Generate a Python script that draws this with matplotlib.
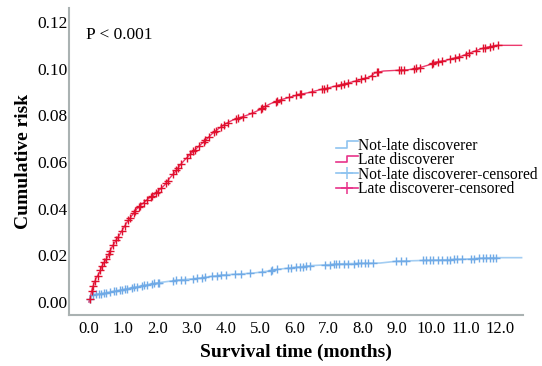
import matplotlib
matplotlib.use("Agg")
import matplotlib.pyplot as plt
import numpy as np
from matplotlib.lines import Line2D
from matplotlib.legend_handler import HandlerBase

# ---------------- data ----------------
late_t = [0.0, 0.05, 0.1, 0.2, 0.3, 0.4, 0.55, 0.65, 0.75, 0.9, 1.0, 1.1, 1.25, 1.4, 1.55,
          1.75, 1.9, 2.05, 2.2, 2.35, 2.5, 2.65, 2.8, 3.0, 3.15, 3.3, 3.45, 3.6, 3.8, 4.0,
          4.2, 4.4, 4.7, 5.0, 5.1, 5.3, 5.55, 5.8, 6.1, 6.4, 6.75, 7.0, 7.3, 7.6, 7.9, 8.2,
          8.35, 8.6, 9.0, 9.3, 9.6, 9.9, 10.1, 10.4, 10.65, 10.9, 11.2, 11.45, 11.65, 11.9, 12.63]
late_v = [0.000, 0.003, 0.006, 0.010, 0.0125, 0.016, 0.0195, 0.023, 0.0255, 0.029, 0.0315,
          0.034, 0.037, 0.040, 0.042, 0.0445, 0.046, 0.048, 0.050, 0.053, 0.0555, 0.0585,
          0.061, 0.064, 0.066, 0.068, 0.070, 0.0722, 0.0745, 0.0765, 0.078, 0.079, 0.0805,
          0.0825, 0.0835, 0.085, 0.0865, 0.0875, 0.0888, 0.0897, 0.091, 0.0918, 0.093,
          0.094, 0.0952, 0.0965, 0.0982, 0.099, 0.0993, 0.0995, 0.1002, 0.1015, 0.1028,
          0.1035, 0.1045, 0.1055, 0.1072, 0.1085, 0.1093, 0.110, 0.110]

notlate_t = [0.0, 0.05, 0.1, 0.4, 0.7, 1.0, 1.2, 1.5, 1.8, 2.1, 2.6, 3.1, 3.5, 3.9, 4.4, 4.8,
             5.2, 5.5, 6.0, 6.5, 7.0, 7.4, 8.5, 9.0, 9.5, 10.4, 11.0, 11.5, 11.9, 12.63]
notlate_v = [0.000, 0.0018, 0.0030, 0.0037, 0.0045, 0.0053, 0.0060, 0.0068, 0.0077, 0.0084,
             0.0094, 0.0100, 0.0108, 0.0116, 0.0120, 0.0124, 0.0132, 0.0140, 0.0148, 0.0156,
             0.0160, 0.0164, 0.0167, 0.0175, 0.0177, 0.0181, 0.0184, 0.0188, 0.0190, 0.0190]

late_cens = [0.02, 0.08, 0.12, 0.18, 0.25, 0.33, 0.38, 0.45, 0.5, 0.58, 0.62, 0.7, 0.8, 0.85,
             0.95, 1.05, 1.15, 1.2, 1.3, 1.35, 1.45, 1.5, 1.6, 1.7, 1.8, 1.85, 1.95, 2.0,
             2.1, 2.25, 2.3, 2.45, 2.55, 2.6, 2.7, 2.85, 2.95, 3.05, 3.1, 3.2, 3.35, 3.4,
             3.5, 3.65, 3.7, 3.85, 3.95, 4.05, 4.3, 4.35, 4.5, 4.75, 5.02, 5.06, 5.15, 5.45,
             5.5, 5.6, 5.85, 6.05, 6.15, 6.2, 6.5, 6.8, 6.85, 6.95, 7.2, 7.35, 7.45, 7.55,
             7.8, 7.95, 8.05, 8.25, 8.4, 8.45, 9.05, 9.1, 9.2, 9.5, 9.55, 9.65, 10.0, 10.05,
             10.2, 10.3, 10.55, 10.7, 10.8, 11.0, 11.1, 11.3, 11.5, 11.55, 11.7, 11.8, 11.95]

notlate_cens = [0.03, 0.12, 0.2, 0.28, 0.35, 0.45, 0.5, 0.6, 0.72, 0.8, 0.9, 0.95, 1.05, 1.1,
                1.25, 1.3, 1.4, 1.55, 1.6, 1.7, 1.85, 1.9, 2.0, 2.05, 2.45, 2.55, 2.7, 2.8,
                3.05, 3.15, 3.3, 3.4, 3.6, 3.75, 3.85, 4.0, 4.25, 4.45, 4.7, 5.05, 5.3, 5.35,
                5.5, 5.8, 5.9, 6.05, 6.15, 6.25, 6.35, 6.45, 6.9, 7.05, 7.15, 7.2, 7.3, 7.45,
                7.55, 7.75, 7.85, 7.95, 8.05, 8.15, 8.3, 8.95, 9.1, 9.25, 9.75, 9.85, 9.95,
                10.05, 10.2, 10.3, 10.45, 10.55, 10.65, 10.75, 10.9, 11.15, 11.25, 11.4, 11.5,
                11.6, 11.7, 11.8, 11.88]

x_ticks = [0, 1, 2, 3, 4, 5, 6, 7, 8, 9, 10, 11, 12]
x_ticklabels = ["0.0", "1.0", "2.0", "3.0", "4.0", "5.0", "6.0", "7.0", "8.0", "9.0",
                "10.0", "11.0", "12.0"]
y_ticks = [0.0, 0.02, 0.04, 0.06, 0.08, 0.10, 0.12]
y_ticklabels = ["0.00", "0.02", "0.04", "0.06", "0.08", "0.10", "0.12"]
labels = ["Not-late discoverer", "Late discoverer", "Not-late discoverer-censored",
          "Late discoverer-censored"]

# ---------------- style ----------------
plt.rcParams['font.family'] = ['Liberation Serif', 'DejaVu Serif']
RED_LINE = "#ec3a6e"
RED_MARK = "#e0102e"
BLUE_LINE = "#a3cdf2"
BLUE_MARK = "#70aae6"
SPINE = "#aab2b2"


def curve_value(ts, vs, t):
    return np.interp(t, ts, vs)


fig = plt.figure(figsize=(5.42, 3.66), dpi=100)
W, H = 542, 366
ax = fig.add_axes([69 / W, (H - 315) / H, (523 - 69) / W, (315 - 8) / H])

ax.plot(notlate_t, notlate_v, color=BLUE_LINE, lw=1.2, zorder=2)
ax.plot(late_t, late_v, color=RED_LINE, lw=1.0, zorder=3)

ax.plot(notlate_cens, curve_value(notlate_t, notlate_v, notlate_cens), ls='none',
        marker='+', ms=5.5, mew=1.0, color=BLUE_MARK, zorder=4)
ax.plot(late_cens, curve_value(late_t, late_v, late_cens), ls='none',
        marker='+', ms=5.5, mew=1.0, color=RED_MARK, zorder=5)

x0 = 89
ppu = 34.25
ax.set_xlim((69 - x0) / ppu, (523 - x0) / ppu)
ypx0, ypu = 302, 2333.3
ax.set_ylim(-(315 - ypx0) / ypu, (ypx0 - 8) / ypu)

ax.set_xticks(x_ticks)
ax.set_xticklabels(x_ticklabels)
ax.set_yticks(y_ticks)
ax.set_yticklabels(y_ticklabels)
ax.tick_params(axis='both', length=0, labelsize=12.5)
ax.tick_params(axis='x', pad=4, labelsize=12)
ax.tick_params(axis='y', pad=1)

for s in ['top', 'right']:
    ax.spines[s].set_visible(False)
for s in ['left', 'bottom']:
    ax.spines[s].set_color(SPINE)
    ax.spines[s].set_linewidth(1.5)

ax.set_xlabel("Survival time (months)", fontsize=14, fontweight='bold', labelpad=5)
ax.set_ylabel("Cumulative risk", fontsize=14, fontweight='bold', labelpad=4)

fig.text(86 / W, 1 - 35 / H, "P < 0.001", fontsize=12.5, va='center', ha='left')


class StepHandler(HandlerBase):
    def create_artists(self, legend, orig_handle, xdescent, ydescent, width, height,
                       fontsize, trans):
        xa = -xdescent
        ya = -ydescent
        xs = [xa, xa + 0.5 * width, xa + 0.5 * width, xa + width]
        ys = [ya + 0.2 * height, ya + 0.2 * height, ya + 0.8 * height, ya + 0.8 * height]
        ln = Line2D(xs, ys, color=orig_handle.get_color(), lw=1.2)
        ln.set_transform(trans)
        return [ln]


h1 = Line2D([], [], color="#8fc4f0")
h2 = Line2D([], [], color="#e8338a")
h3 = Line2D([], [], color="#8fc4f0", lw=1.2, marker='+', ms=8, mew=1.1)
h4 = Line2D([], [], color="#e8338a", lw=1.2, marker='+', ms=8, mew=1.1)
leg = ax.legend([h1, h2, h3, h4], labels, loc='upper left',
                bbox_to_anchor=((336 - 69) / (523 - 69), (315 - 138) / (315 - 8)),
                frameon=False, fontsize=11.2, handlelength=1.4, handletextpad=0.0,
                labelspacing=-0.1, borderpad=0, borderaxespad=0,
                handler_map={h1: StepHandler(), h2: StepHandler()})

fig.savefig("out.png", dpi=100)
